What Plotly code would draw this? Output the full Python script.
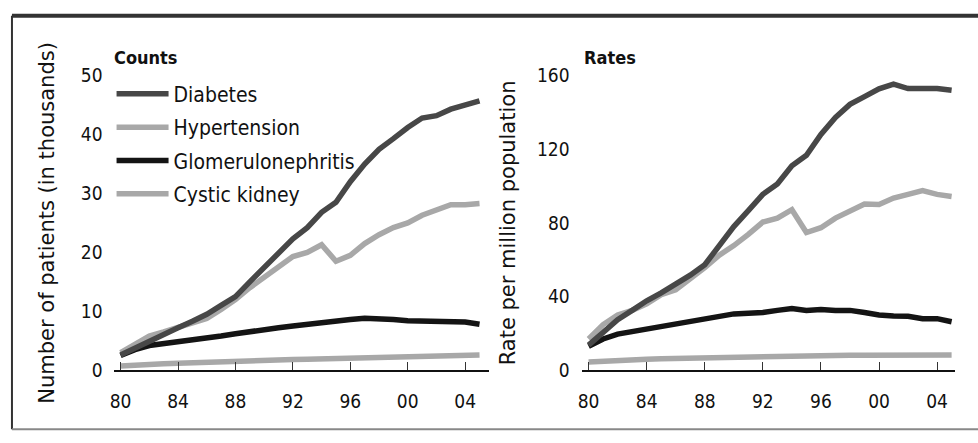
import plotly.graph_objects as go

years = list(range(1980, 2006))
tick_years = [1980, 1984, 1988, 1992, 1996, 2000, 2004]
tick_labels = ["80", "84", "88", "92", "96", "00", "04"]

series_names = ["Diabetes", "Hypertension", "Glomerulonephritis", "Cystic kidney"]
series_colors = ["#474747", "#a8a8a8", "#141414", "#a8a8a8"]

counts_diabetes = [2.6, 3.8, 5.0, 6.0, 7.2, 8.3, 9.5, 11.0, 12.5, 15.0, 17.5, 20.0, 22.3,
                   24.2, 26.8, 28.5, 32.0, 35.0, 37.5, 39.3, 41.2, 42.8, 43.2, 44.3, 45.0, 45.7]
counts_hypertension = [3.0, 4.5, 5.8, 6.5, 7.2, 8.0, 8.8, 10.3, 12.0, 14.0, 15.8, 17.5, 19.3,
                       20.0, 21.3, 18.5, 19.5, 21.5, 23.0, 24.2, 25.0, 26.3, 27.2, 28.1, 28.1, 28.3]
counts_glomerulo = [2.5, 3.5, 4.2, 4.5, 4.7, 5.0, 5.3, 5.8, 6.2, 6.6, 7.0, 7.2, 7.5,
                    7.8, 8.2, 8.3, 8.6, 8.8, 8.8, 8.6, 8.4, 8.4, 8.4, 8.2, 8.2, 7.8]
counts_cystic = [0.7, 0.9, 1.0, 1.1, 1.2, 1.3, 1.35, 1.4, 1.5, 1.55, 1.6, 1.7, 1.8,
                 1.85, 1.9, 1.95, 2.0, 2.1, 2.15, 2.2, 2.25, 2.3, 2.35, 2.4, 2.45, 2.6]

rates_diabetes = [13.6, 21.0, 27.4, 32.5, 37.7, 42.0, 46.5, 51.6, 57.3, 67.6, 78.0, 86.7, 95.5,
                  101.2, 111.0, 116.7, 128.0, 137.3, 144.4, 148.6, 152.8, 155.4, 153.0, 153.0, 153.0, 152.0]
rates_hypertension = [17.0, 24.8, 30.0, 32.5, 36.0, 41.0, 43.7, 49.5, 55.7, 62.5, 67.7, 73.8, 80.5,
                      82.6, 87.2, 74.8, 77.4, 82.6, 86.7, 90.3, 90.0, 93.5, 95.5, 97.5, 95.5, 94.4]
rates_glomerulo = [13.0, 17.0, 19.6, 21.0, 22.3, 23.5, 25.0, 26.5, 28.0, 29.3, 30.6, 31.0, 31.3,
                   32.5, 33.5, 32.5, 33.0, 32.5, 32.5, 31.3, 30.0, 29.5, 29.3, 28.0, 28.0, 26.3]
rates_cystic = [4.5, 5.0, 5.4, 5.7, 6.0, 6.2, 6.4, 6.6, 6.8, 7.0, 7.2, 7.4, 7.6,
                7.8, 7.9, 8.0, 8.0, 8.1, 8.2, 8.2, 8.1, 8.1, 8.0, 8.0, 8.0, 8.3]

counts_series = [counts_diabetes, counts_hypertension, counts_glomerulo, counts_cystic]
rates_series = [rates_diabetes, rates_hypertension, rates_glomerulo, rates_cystic]

narrow = "DejaVu Sans Condensed, Liberation Sans Narrow, Roboto, sans-serif"
body = "DejaVu Sans, Verdana, sans-serif"

fig = go.Figure()
order = [3, 2, 1, 0]
for i in order:
    fig.add_trace(go.Scatter(x=years, y=counts_series[i], mode="lines", name=series_names[i],
                             line=dict(color=series_colors[i], width=5.5),
                             legendgroup=series_names[i],
                             xaxis="x", yaxis="y", showlegend=True, legendrank=i))
for i in order:
    fig.add_trace(go.Scatter(x=years, y=rates_series[i], mode="lines", name=series_names[i],
                             line=dict(color=series_colors[i], width=5.5),
                             legendgroup=series_names[i],
                             xaxis="x2", yaxis="y2", showlegend=False))

H = 443.0
W = 978.0
ydom = [1 - 378 / H, 1 - 68 / H]

xcommon = dict(tickvals=tick_years, ticktext=tick_labels, showline=True, linecolor="#111",
               linewidth=2, ticks="inside", ticklen=8, tickwidth=1, tickcolor="#333",
               showgrid=False, zeroline=False, ticklabelstandoff=13,
               tickfont=dict(family=narrow, size=19, color="#111"))
ycommon = dict(showgrid=False, zeroline=False, showline=False, ticks="",
               tickfont=dict(family=narrow, size=19, color="#111"),
               title_font=dict(family=body, size=21, color="#111"))

fig.update_layout(
    width=978, height=443,
    margin=dict(l=0, r=0, t=0, b=0),
    paper_bgcolor="white", plot_bgcolor="white",
    xaxis=dict(domain=[110 / W, 487 / W], range=[1979.51, 2005.66], anchor="y", **xcommon),
    yaxis=dict(domain=ydom, range=[0, 50], anchor="x", tickvals=[0, 10, 20, 30, 40, 50],
               ticklabelstandoff=10,
               title=dict(text="Number of patients (in thousands)", standoff=20), **ycommon),
    xaxis2=dict(domain=[580 / W, 955 / W], range=[1979.52, 2005.24], anchor="y2", **xcommon),
    yaxis2=dict(domain=ydom, range=[0, 160], anchor="x2", tickvals=[0, 40, 80, 120, 160],
                ticklabelstandoff=11,
                title=dict(text="Rate per million population", standoff=15), **ycommon),
    legend=dict(x=108 / W, y=1 - 66 / H, xanchor="left", yanchor="top",
                font=dict(family=narrow, size=21, color="#111"),
                bgcolor="rgba(0,0,0,0)", tracegroupgap=3, itemwidth=52),
    annotations=[
        dict(text="<b>Counts</b>", x=108 / W, y=1 - 49 / H, xref="paper", yref="paper",
             xanchor="left", yanchor="middle", showarrow=False,
             font=dict(family=narrow, size=18, color="#111")),
        dict(text="<b>Rates</b>", x=580 / W, y=1 - 49 / H, xref="paper", yref="paper",
             xanchor="left", yanchor="middle", showarrow=False,
             font=dict(family=narrow, size=18, color="#111")),
    ],
    shapes=[
        dict(type="line", xref="paper", yref="paper", x0=8 / W, x1=1.0, y0=1 - 5 / H, y1=1 - 5 / H,
             line=dict(color="#333", width=4)),
        dict(type="line", xref="paper", yref="paper", x0=8 / W, x1=8 / W, y0=1 - 5 / H, y1=1 - 440 / H,
             line=dict(color="#333", width=2)),
        dict(type="line", xref="paper", yref="paper", x0=8 / W, x1=1.0, y0=1 - 440 / H, y1=1 - 440 / H,
             line=dict(color="#888", width=2)),
    ],
)

fig.write_html("out.html")
